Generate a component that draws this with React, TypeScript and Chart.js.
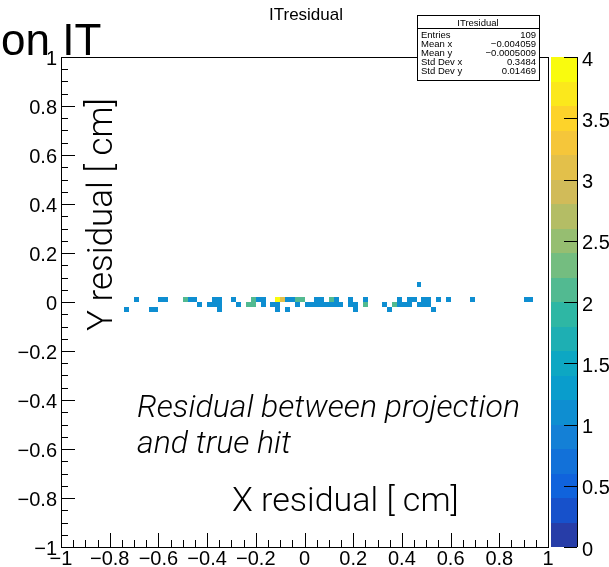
import React, { useEffect, useRef } from "react";
import { Chart, registerables } from "chart.js";

Chart.register(...registerables);

// ITresidual: 2D histogram, 100 x 100 bins of 0.02 over [-1, 1] x [-1, 1].
// Only the occupied bins are listed, one list per y-bin row (x = bin centre).
const binHalf = 0.01;

// y bin [0, 0.02]
const rowUpperX = [
  -0.69, -0.59, -0.57, -0.49, -0.47, -0.45, -0.37, -0.35, -0.29, -0.21, -0.19, -0.17,
  -0.11, -0.09, -0.07, -0.05, -0.03, -0.01, 0.05, 0.07, 0.11, 0.13, 0.19, 0.25,
  0.39, 0.43, 0.45, 0.49, 0.51, 0.55, 0.59, 0.69, 0.91, 0.93,
];
const rowUpperN = [
  1, 1, 1, 2, 1, 1, 1, 1, 1, 2, 1, 1,
  4, 3, 1, 1, 2, 2, 1, 1, 2, 1, 1, 1,
  1, 1, 1, 1, 1, 1, 1, 1, 1, 1,
];

// y bin [-0.02, 0]
const rowLowerX = [
  -0.43, -0.39, -0.37, -0.35, -0.27, -0.23, -0.21, -0.17, -0.13, -0.11, -0.03, 0.01,
  0.03, 0.05, 0.07, 0.09, 0.11, 0.13, 0.15, 0.19, 0.21, 0.25, 0.33, 0.37,
  0.39, 0.41, 0.43, 0.47, 0.49, 0.51,
];
const rowLowerN = [
  1, 1, 1, 1, 1, 2, 2, 1, 1, 1, 1, 1,
  1, 1, 1, 1, 1, 1, 1, 1, 1, 2, 1, 2,
  1, 1, 1, 1, 1, 1,
];

// y bin [-0.04, -0.02]
const rowBottomX = [-0.73, -0.63, -0.61, -0.35, -0.11, -0.07, 0.21, 0.35, 0.53];
const rowBottomN = [1, 1, 1, 1, 1, 1, 1, 1, 1];

// y bin [0.06, 0.08]
const rowHighX = [0.47];
const rowHighN = [1];

const rowCentres = [0.01, -0.01, -0.03, 0.07];

// axis ticks
const xTickValues = [-1, -0.8, -0.6, -0.4, -0.2, 0, 0.2, 0.4, 0.6, 0.8, 1];
const xTickLabels = ["\u22121", "\u22120.8", "\u22120.6", "\u22120.4", "\u22120.2", "0", "0.2", "0.4", "0.6", "0.8", "1"];
const yTickValues = xTickValues;
const yTickLabels = xTickLabels;
const zTickValues = [0, 0.5, 1, 1.5, 2, 2.5, 3, 3.5, 4];
const zTickLabels = ["0", "0.5", "1", "1.5", "2", "2.5", "3", "3.5", "4"];
const zMax = 4;
const nContours = 20;

// statistics box
const statTitle = "ITresidual";
const statNames = ["Entries", "Mean x", "Mean y", "Std Dev x", "Std Dev y"];
const statValues = ["109", "\u22120.004059", "\u22120.0005009", "0.3484", "0.01469"];

const histTitle = "ITresidual";
const padText = "on IT";
const xTitle = "X residual [ cm]";
const yTitle = "Y residual [ cm]";
const noteLines = ["Residual between projection", "and true hit"];

// kBird colour palette
const birdStops = [0, 0.125, 0.25, 0.375, 0.5, 0.625, 0.75, 0.875, 1];
const birdR = [0.2082, 0.0592, 0.078, 0.0232, 0.1802, 0.5301, 0.8186, 0.9956, 0.9764];
const birdG = [0.1664, 0.3599, 0.5041, 0.6419, 0.7178, 0.7492, 0.7328, 0.7862, 0.9832];
const birdB = [0.5293, 0.8684, 0.8385, 0.7914, 0.6425, 0.4662, 0.3499, 0.1968, 0.0539];

function birdColour(t: number): string {
  let k = 0;
  while (k < birdStops.length - 2 && t > birdStops[k + 1]) k++;
  const f = (t - birdStops[k]) / (birdStops[k + 1] - birdStops[k]);
  const mix = (a: number[]) => Math.round((a[k] + (a[k + 1] - a[k]) * f) * 255);
  return `rgb(${mix(birdR)},${mix(birdG)},${mix(birdB)})`;
}

function contourColour(i: number): string {
  const idx = Math.floor(((i + 0.99) * 255) / nContours);
  return birdColour(Math.min(idx, 254) / 254);
}

function binColour(v: number): string {
  let i = Math.floor((v / zMax) * nContours + 1e-9);
  if (i > nContours - 1) i = nContours - 1;
  if (i < 0) i = 0;
  return contourColour(i);
}

type Bin = { x: number; y: number; v: number };

function buildBins(): Bin[] {
  const rows: [number[], number[]][] = [
    [rowUpperX, rowUpperN],
    [rowLowerX, rowLowerN],
    [rowBottomX, rowBottomN],
    [rowHighX, rowHighN],
  ];
  const out: Bin[] = [];
  rows.forEach(([xs, ns], r) => {
    xs.forEach((x, i) => out.push({ x, y: rowCentres[r], v: ns[i] }));
  });
  return out;
}

const labelFont = "'Liberation Sans', Arial, sans-serif";
const titleFont = "Roboto, 'Open Sans', sans-serif";

const th2Plugin = {
  id: "th2colz",
  beforeDatasetsDraw(chart: any) {
    const { ctx } = chart;
    const xs = chart.scales.x;
    const ys = chart.scales.y;
    const bins = chart.data.datasets[0].data as Bin[];
    ctx.save();
    for (const p of bins) {
      const l = Math.round(xs.getPixelForValue(p.x - binHalf));
      const r = Math.round(xs.getPixelForValue(p.x + binHalf));
      const t = Math.round(ys.getPixelForValue(p.y + binHalf));
      const b = Math.round(ys.getPixelForValue(p.y - binHalf));
      ctx.fillStyle = binColour(p.v);
      ctx.fillRect(l, t, r - l, b - t);
    }
    ctx.restore();
  },
  afterDraw(chart: any) {
    const { ctx, chartArea: ca } = chart;
    const xs = chart.scales.x;
    const ys = chart.scales.y;
    const zs = chart.scales.z;
    ctx.save();
    ctx.strokeStyle = "#000";
    ctx.lineWidth = 1;

    // frame
    const L = Math.round(ca.left);
    const R = Math.round(ca.right);
    const T = Math.round(ca.top);
    const B = Math.round(ca.bottom);
    ctx.strokeRect(L + 0.5, T + 0.5, R - L, B - T);

    // inward tick marks, major every 0.2, minor every 0.05
    ctx.beginPath();
    for (let k = 0; k <= 40; k++) {
      const v = -1 + k * 0.05;
      const len = k % 4 === 0 ? 14 : 7;
      const px = Math.round(xs.getPixelForValue(v)) + 0.5;
      ctx.moveTo(px, B);
      ctx.lineTo(px, B - len);
      const py = Math.round(ys.getPixelForValue(v)) + 0.5;
      ctx.moveTo(L, py);
      ctx.lineTo(L + len, py);
    }
    ctx.stroke();

    // colour palette
    const pl = R + 3;
    const pr = R + 29;
    for (let i = 0; i < nContours; i++) {
      const top = Math.round(zs.getPixelForValue(((i + 1) * zMax) / nContours));
      const bot = Math.round(zs.getPixelForValue((i * zMax) / nContours));
      ctx.fillStyle = contourColour(i);
      ctx.fillRect(pl, top, pr - pl, bot - top);
    }
    ctx.beginPath();
    ctx.moveTo(pr + 0.5, Math.round(zs.getPixelForValue(zMax)));
    ctx.lineTo(pr + 0.5, Math.round(zs.getPixelForValue(0)));
    for (const v of zTickValues) {
      const py = Math.round(zs.getPixelForValue(v)) + 0.5;
      ctx.moveTo(pr, py);
      ctx.lineTo(pr - 13, py);
    }
    ctx.stroke();

    // histogram title and pad text
    ctx.fillStyle = "#000";
    ctx.textBaseline = "alphabetic";
    ctx.font = `17px ${labelFont}`;
    ctx.textAlign = "center";
    ctx.fillText(histTitle, 306, 20);
    ctx.font = `44px ${labelFont}`;
    ctx.textAlign = "left";
    ctx.fillText(padText, 1, 55);

    // axis titles
    ctx.font = `300 34px ${titleFont}`;
    ctx.textAlign = "left";
    ctx.fillText(xTitle, 232, 511);
    ctx.save();
    ctx.translate(112, 331);
    ctx.rotate(-Math.PI / 2);
    ctx.font = `300 35px ${titleFont}`;
    ctx.fillText(yTitle, 0, 0);
    ctx.restore();

    // note
    ctx.font = `italic 300 32px ${titleFont}`;
    ctx.fillText(noteLines[0], 137, 417);
    ctx.fillText(noteLines[1], 137, 453);

    // statistics box
    const bl = 417, bt = 15, br = 539, bb = 80;
    ctx.fillStyle = "#fff";
    ctx.fillRect(bl, bt, br - bl, bb - bt);
    ctx.strokeRect(bl + 0.5, bt + 0.5, br - bl, bb - bt);
    ctx.beginPath();
    ctx.moveTo(bl, 28.5);
    ctx.lineTo(br, 28.5);
    ctx.stroke();
    ctx.fillStyle = "#000";
    ctx.font = `9.5px ${labelFont}`;
    ctx.textAlign = "center";
    ctx.fillText(statTitle, (bl + br) / 2, 26);
    statNames.forEach((name, i) => {
      const by = 38 + i * 9;
      ctx.textAlign = "left";
      ctx.fillText(name, bl + 4, by);
      ctx.textAlign = "right";
      ctx.fillText(statValues[i], br - 3, by);
    });

    ctx.restore();
  },
};

// keep label overhang from shrinking the plot area
function fixVertical(width: number) {
  return (s: any) => {
    s.width = width;
    s.paddingTop = 0;
    s.paddingBottom = 0;
  };
}

export default function App() {
  const canvasRef = useRef<HTMLCanvasElement | null>(null);

  useEffect(() => {
    const canvas = canvasRef.current;
    if (!canvas) return;
    const tickFont = { family: labelFont, size: 20 };
    const chart = new Chart(canvas, {
      type: "scatter",
      data: {
        datasets: [
          {
            label: "ITresidual",
            data: buildBins() as any,
            pointRadius: 0,
            pointHoverRadius: 0,
            showLine: false,
          },
        ],
      },
      options: {
        responsive: false,
        devicePixelRatio: 1,
        animation: false,
        events: [],
        layout: { autoPadding: false, padding: { top: 57, left: 0, right: 0, bottom: 0 } },
        plugins: {
          legend: { display: false },
          tooltip: { enabled: false },
          title: { display: false },
        },
        scales: {
          x: {
            type: "linear",
            position: "bottom",
            min: -1,
            max: 1,
            grid: { display: false, drawTicks: false, tickLength: 0 },
            border: { display: false },
            afterBuildTicks: (s: any) => {
              s.ticks = xTickValues.map((value) => ({ value }));
            },
            afterFit: (s: any) => {
              s.height = 20;
              s.paddingLeft = 0;
              s.paddingRight = 0;
            },
            ticks: {
              autoSkip: false,
              maxRotation: 0,
              padding: 0,
              color: "#000",
              font: tickFont,
              callback: (_v: any, i: number) => xTickLabels[i],
            },
          },
          y: {
            type: "linear",
            position: "left",
            min: -1,
            max: 1,
            grid: { display: false, drawTicks: false, tickLength: 0 },
            border: { display: false },
            afterBuildTicks: (s: any) => {
              s.ticks = yTickValues.map((value) => ({ value }));
            },
            afterFit: fixVertical(61),
            ticks: {
              autoSkip: false,
              padding: 4,
              labelOffset: 2,
              color: "#000",
              font: tickFont,
              callback: (_v: any, i: number) => yTickLabels[i],
            },
          },
          z: {
            type: "linear",
            axis: "y",
            position: "right",
            display: true,
            min: 0,
            max: zMax,
            grid: { display: false, drawTicks: false, tickLength: 0 },
            border: { display: false },
            afterBuildTicks: (s: any) => {
              s.ticks = zTickValues.map((value) => ({ value }));
            },
            afterFit: fixVertical(61),
            ticks: {
              autoSkip: false,
              padding: 34,
              labelOffset: 3,
              color: "#000",
              font: tickFont,
              callback: (_v: any, i: number) => zTickLabels[i],
            },
          },
        } as any,
      },
      plugins: [th2Plugin],
    });
    return () => chart.destroy();
  }, []);

  return (
    <div style={{ position: "absolute", left: 0, top: 0, width: 609, height: 567, background: "#fff" }}>
      <canvas ref={canvasRef} width={609} height={567} style={{ display: "block" }} />
    </div>
  );
}
